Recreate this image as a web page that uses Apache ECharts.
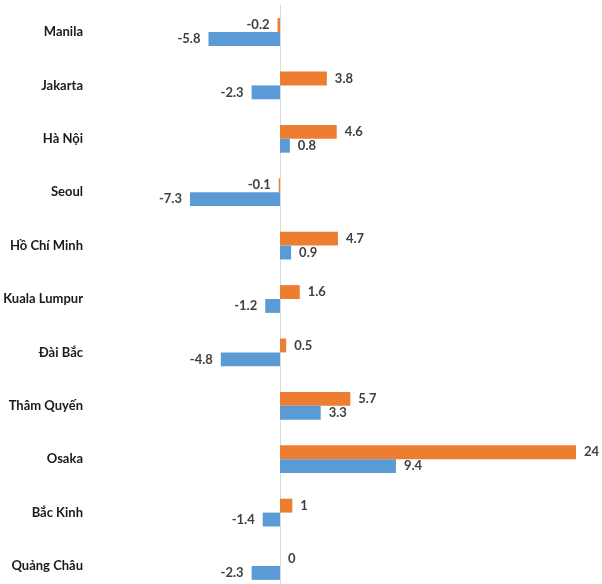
<!DOCTYPE html>
<html>
<head>
<meta charset="utf-8">
<script src="https://cdn.jsdelivr.net/npm/echarts@6/dist/echarts.min.js"></script>
<style>
html,body{margin:0;padding:0;background:#fff;}
#chart{width:602px;height:584px;}
</style>
</head>
<body>
<div id="chart"></div>
<script>
var categories = ['Manila','Jakarta','Hà Nội','Seoul','Hồ Chí Minh','Kuala Lumpur','Đài Bắc','Thâm Quyến','Osaka','Bắc Kinh','Quảng Châu'];
var orangeValues = [-0.2, 3.8, 4.6, -0.1, 4.7, 1.6, 0.5, 5.7, 24, 1, 0];
var blueValues = [-5.8, -2.3, 0.8, -7.3, 0.9, -1.2, -4.8, 3.3, 9.4, -1.4, -2.3];

function toItems(arr) {
  return arr.map(function (v) {
    return { value: v, label: { position: v < 0 ? 'left' : 'right' } };
  });
}

var labelStyle = {
  show: true,
  distance: 8,
  color: '#404040',
  fontFamily: 'Lato',
  fontWeight: 'bold',
  fontSize: 13
};

var chart = echarts.init(document.getElementById('chart'), null, { renderer: 'canvas' });
chart.setOption({
  animation: false,
  backgroundColor: '#ffffff',
  grid: { left: 156.67, top: 5.3, width: 444, height: 587.4, containLabel: false, outerBoundsMode: 'none' },
  xAxis: {
    type: 'value', min: -10, max: 26,
    axisLine: { show: false }, axisTick: { show: false },
    axisLabel: { show: false }, splitLine: { show: false }
  },
  yAxis: {
    type: 'category', data: categories, inverse: true,
    axisLine: { show: true, onZero: true, lineStyle: { color: '#d9d9d9', width: 1 } },
    axisTick: { show: false },
    axisLabel: { margin: 73.67, color: '#1a1a1a', fontFamily: 'Lato', fontWeight: 'bold', fontSize: 13 }
  },
  series: [
    { type: 'bar', data: toItems(orangeValues), barGap: '0%', barCategoryGap: '48%',
      itemStyle: { color: '#ED7D31' }, label: labelStyle },
    { type: 'bar', data: toItems(blueValues), barGap: '0%', barCategoryGap: '48%',
      itemStyle: { color: '#5B9BD5' }, label: labelStyle }
  ]
});
</script>
</body>
</html>
